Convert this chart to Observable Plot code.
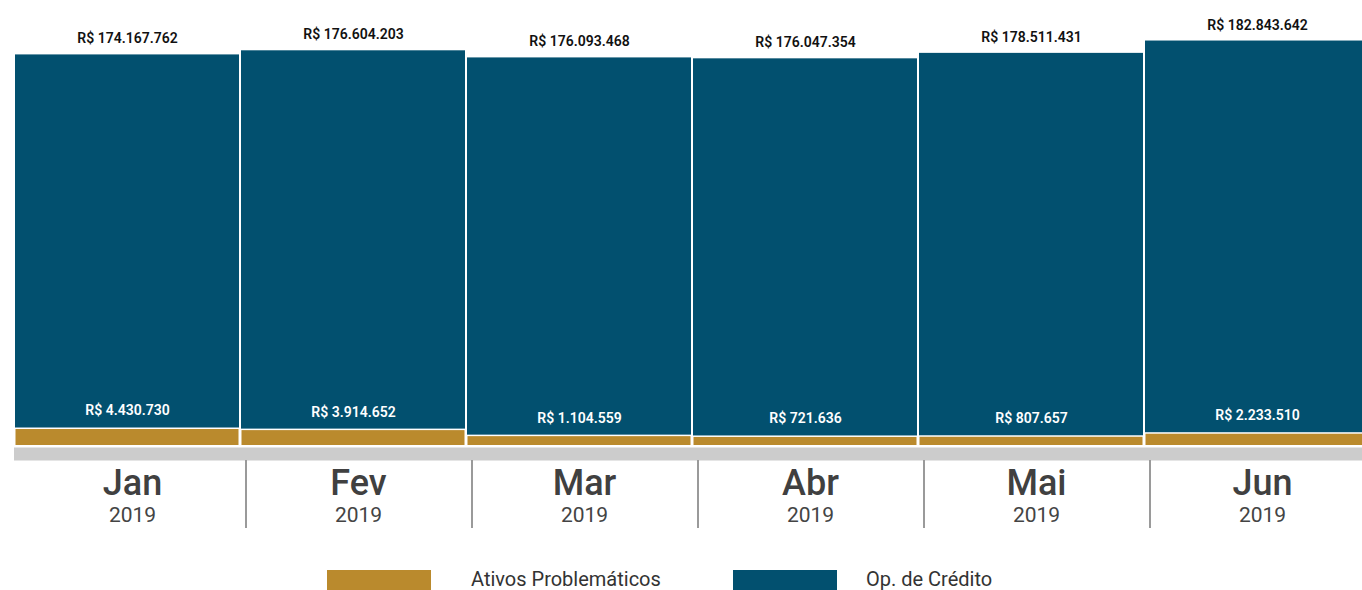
<!DOCTYPE html>
<html><head><meta charset="utf-8">
<script src="https://cdn.jsdelivr.net/npm/d3@7"></script>
<script src="https://cdn.jsdelivr.net/npm/@observablehq/plot@0.6"></script>
<style>
body{margin:0;background:#fff;font-family:Roboto,"Noto Sans",sans-serif;overflow:hidden}
#legend{position:relative;height:50px;width:1362px}
.sw{position:absolute;top:30px;width:104px;height:22px}
.lt{position:absolute;top:26px;font-size:20px;color:#333;font-weight:400;line-height:26px;white-space:nowrap}
</style></head>
<body><div id="chart"></div><div id="legend"></div>
<script>
const months = ["Jan", "Fev", "Mar", "Abr", "Mai", "Jun"];
const years = ["2019", "2019", "2019", "2019", "2019", "2019"];
const ativos = [4430730, 3914652, 1104559, 721636, 807657, 2233510];
const credito = [174167762, 176604203, 176093468, 176047354, 178511431, 182843642];
const seriesNames = ["Ativos Problemáticos", "Op. de Crédito"];
const seriesColors = ["#BA8A2D", "#02506F"];

const fmt = d3.formatLocale({decimal: ",", thousands: ".", grouping: [3], currency: ["R$ ", ""]}).format("$,.0f");

const rows = months.map((m, i) => ({
  month: m, year: years[i], ativos: ativos[i], credito: credito[i], total: ativos[i] + credito[i]
}));

function separators(index, scales, values, dims) {
  const x = scales.x;
  const y0 = scales.y(0);
  const g = d3.create("svg:g");
  months.slice(1).forEach(m => {
    const xx = x(m) + 6;
    g.append("line").attr("x1", xx).attr("x2", xx).attr("y1", y0 + 23).attr("y2", y0 + 91)
      .attr("stroke", "#9a9a9a").attr("stroke-width", 2);
  });
  return g.node();
}

const chart = Plot.plot({
  width: 1362, height: 540,
  marginLeft: 14, marginRight: -8, marginTop: 0, marginBottom: 103,
  x: {type: "band", domain: months, padding: 0, axis: null},
  y: {domain: [0, 204e6], axis: null},
  marks: [
    Plot.ruleY([0], {stroke: "#cccccc", strokeWidth: 13, dy: 16.5}),
    Plot.barY(rows, {x: "month", y1: 0, y2: "ativos", fill: seriesColors[0],
      insetLeft: 1.5, insetRight: 1.5, insetTop: 1.5, insetBottom: -8}),
    Plot.barY(rows, {x: "month", y1: "ativos", y2: "total", fill: seriesColors[1],
      insetLeft: 1, insetRight: 1}),
    Plot.text(rows, {x: "month", y: "total", text: d => fmt(d.credito), dy: -16,
      fill: "#111", fontSize: 14, fontWeight: 600, fontFamily: "Roboto"}),
    Plot.text(rows, {x: "month", y: "ativos", text: d => fmt(d.ativos), dy: -17,
      fill: "#ffffff", fontSize: 14, fontWeight: 600, fontFamily: "Roboto"}),
    separators,
    Plot.text(rows, {x: "month", text: "month", frameAnchor: "bottom", lineAnchor: "middle", dy: 46, dx: 5,
      fill: "#404040", fontSize: 36, fontWeight: 500, fontFamily: "Roboto"}),
    Plot.text(rows, {x: "month", text: "year", frameAnchor: "bottom", lineAnchor: "middle", dy: 78, dx: 5,
      fill: "#444", fontSize: 21, fontWeight: 400, fontFamily: "Roboto"})
  ]
});
document.getElementById("chart").appendChild(chart);

const legend = document.getElementById("legend");
const legendPos = [[327, 471], [733, 866]];
seriesNames.forEach((name, i) => {
  const sw = document.createElement("div");
  sw.className = "sw"; sw.style.left = legendPos[i][0] + "px"; sw.style.background = seriesColors[i];
  legend.appendChild(sw);
  const t = document.createElement("div");
  t.className = "lt"; t.style.left = legendPos[i][1] + "px"; t.textContent = name;
  legend.appendChild(t);
});
</script>
</body></html>
